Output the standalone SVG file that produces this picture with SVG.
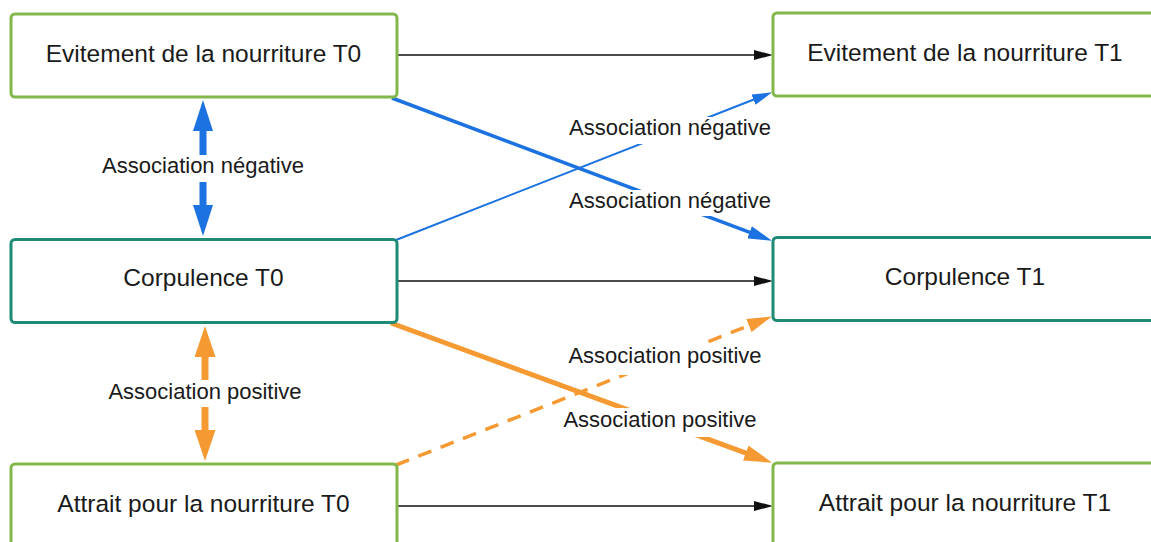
<svg xmlns="http://www.w3.org/2000/svg" width="1151" height="542" viewBox="0 0 1151 542">
<style>
.box{fill:#fff;stroke-width:3}
.g{stroke:#82b74b}
.t{stroke:#1f8a76}
.bt{font-family:"Liberation Sans",Arial,sans-serif;font-size:24.5px;fill:#1a1a1a;text-anchor:middle}
.lb{font-family:"Liberation Sans",Arial,sans-serif;font-size:22px;fill:#1a1a1a;text-anchor:middle}
.bg{fill:#fff}
.blk{stroke:#111;stroke-width:1.6;fill:none}
.blu{stroke:#1b72e0;fill:none}
.org{stroke:#f59a32;fill:none}
</style>
<defs>
<marker id="mBlk" markerUnits="userSpaceOnUse" markerWidth="19" markerHeight="10" refX="1" refY="5" orient="auto"><path d="M0,0 L19,5 L0,10 z" fill="#111"/></marker>
<marker id="mBluV" markerUnits="userSpaceOnUse" markerWidth="31" markerHeight="20" refX="1" refY="10" orient="auto"><path d="M0,0 L31,10 L0,20 z" fill="#1b72e0"/></marker>
<marker id="mOrgV" markerUnits="userSpaceOnUse" markerWidth="31" markerHeight="21" refX="1" refY="10.5" orient="auto"><path d="M0,0 L31,10.5 L0,21 z" fill="#f59a32"/></marker>
<marker id="mBluS" markerUnits="userSpaceOnUse" markerWidth="20" markerHeight="11" refX="1" refY="5.5" orient="auto"><path d="M0,0 L20,5.5 L0,11 z" fill="#1b72e0"/></marker>
<marker id="mBluL" markerUnits="userSpaceOnUse" markerWidth="24" markerHeight="13" refX="1" refY="6.5" orient="auto"><path d="M0,0 L24,6.5 L0,13 z" fill="#1b72e0"/></marker>
<marker id="mOrgL" markerUnits="userSpaceOnUse" markerWidth="28" markerHeight="16" refX="1" refY="8" orient="auto"><path d="M0,0 L28,8 L0,16 z" fill="#f59a32"/></marker>
<marker id="mOrgS" markerUnits="userSpaceOnUse" markerWidth="25" markerHeight="14" refX="1" refY="7" orient="auto"><path d="M0,0 L25,7 L0,14 z" fill="#f59a32"/></marker>
</defs>
<rect width="1151" height="542" fill="#fff"/>

<g id="connectors">
<path class="blk" d="M397,55 L755,55" marker-end="url(#mBlk)"/>
<path class="blk" d="M397,281 L755,281" marker-end="url(#mBlk)"/>
<path class="blk" d="M397,506 L755,506" marker-end="url(#mBlk)"/>
<path class="blu" stroke-width="7" d="M203,155 L203,130" marker-end="url(#mBluV)"/>
<path class="blu" stroke-width="7" d="M203,182 L203,206" marker-end="url(#mBluV)"/>
<path class="org" stroke-width="7" d="M205,380 L205,356" marker-end="url(#mOrgV)"/>
<path class="org" stroke-width="7" d="M205,407 L205,431" marker-end="url(#mOrgV)"/>
<path class="blu" stroke-width="2" d="M396,240 L754.4,99.3" marker-end="url(#mBluS)"/>
<path class="blu" stroke-width="3.5" d="M392,98 L750.5,232.6" marker-end="url(#mBluL)"/>
<path class="org" stroke-width="5" d="M391,323 L746.7,453.4" marker-end="url(#mOrgL)"/>
<path class="org" stroke-width="3.5" stroke-dasharray="14,10" d="M396,465 L749.8,325.2" marker-end="url(#mOrgS)"/>
</g>

<g id="labels">
<text class="lb" x="203" y="173">Association négative</text>
<text class="lb" x="205" y="399">Association positive</text>
<rect class="bg" x="566" y="117" width="209" height="27"/>
<text class="lb" x="670" y="135">Association négative</text>
<rect class="bg" x="566" y="190" width="209" height="26"/>
<text class="lb" x="670" y="208">Association négative</text>
<rect class="bg" x="565" y="343" width="200" height="32"/>
<text class="lb" x="665" y="363">Association positive</text>
<rect class="bg" x="560" y="408" width="200" height="29"/>
<text class="lb" x="660" y="427">Association positive</text>
</g>

<g id="node-evitement-t0">
<rect class="box g" x="11" y="14" width="386" height="83" rx="4"/>
<text class="bt" x="203.5" y="62">Evitement de la nourriture T0</text>
</g>
<g id="node-evitement-t1">
<rect class="box g" x="773" y="13" width="386" height="83" rx="4"/>
<text class="bt" x="965" y="61">Evitement de la nourriture T1</text>
</g>
<g id="node-corpulence-t0">
<rect class="box t" x="11" y="239.5" width="386" height="83" rx="4"/>
<text class="bt" x="203.5" y="286">Corpulence T0</text>
</g>
<g id="node-corpulence-t1">
<rect class="box t" x="773" y="237.5" width="386" height="83" rx="4"/>
<text class="bt" x="965" y="285">Corpulence T1</text>
</g>
<g id="node-attrait-t0">
<rect class="box g" x="11" y="464" width="386" height="90" rx="4"/>
<text class="bt" x="203.5" y="511.5">Attrait pour la nourriture T0</text>
</g>
<g id="node-attrait-t1">
<rect class="box g" x="773" y="463" width="386" height="90" rx="4"/>
<text class="bt" x="965" y="510.5">Attrait pour la nourriture T1</text>
</g>
</svg>
